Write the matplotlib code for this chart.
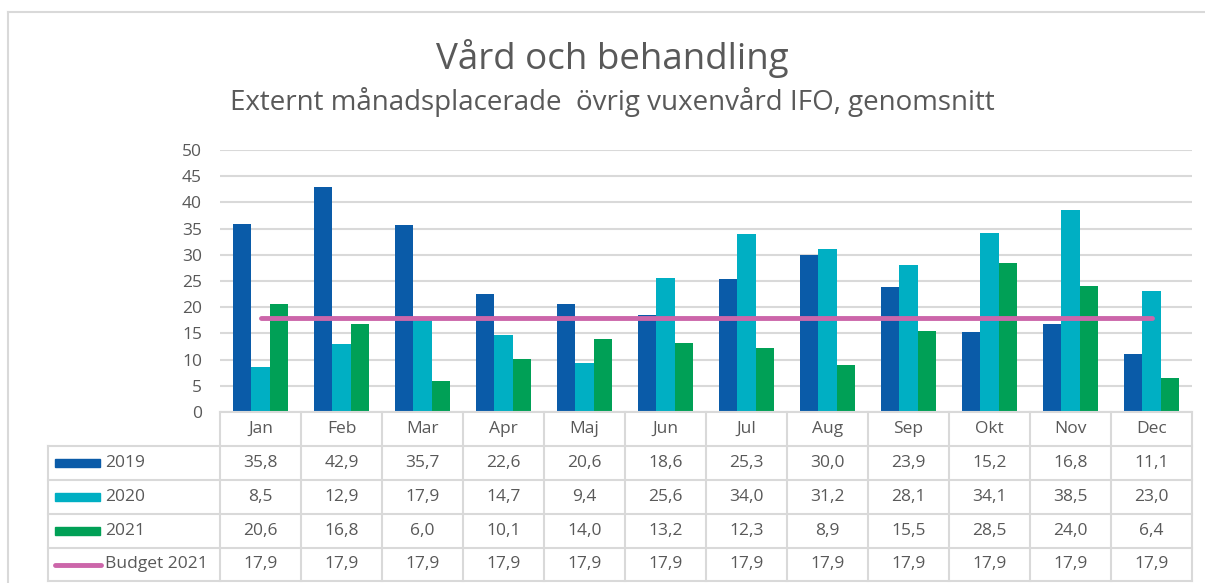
import matplotlib
matplotlib.use("Agg")
import matplotlib.pyplot as plt
import matplotlib.transforms as mtransforms
from matplotlib.patches import Rectangle
from matplotlib.lines import Line2D
import numpy as np

plt.rcParams['font.family'] = ['Open Sans', 'DejaVu Sans']

months = ["Jan", "Feb", "Mar", "Apr", "Maj", "Jun", "Jul", "Aug", "Sep", "Okt", "Nov", "Dec"]
series_names = ["2019", "2020", "2021"]
v2019 = [35.8, 42.9, 35.7, 22.6, 20.6, 18.6, 25.3, 30.0, 23.9, 15.2, 16.8, 11.1]
v2020 = [8.5, 12.9, 17.9, 14.7, 9.4, 25.6, 34.0, 31.2, 28.1, 34.1, 38.5, 23.0]
v2021 = [20.6, 16.8, 6.0, 10.1, 14.0, 13.2, 12.3, 8.9, 15.5, 28.5, 24.0, 6.4]
budget_name = "Budget 2021"
budget = [17.9] * 12
yticks = [0, 5, 10, 15, 20, 25, 30, 35, 40, 45, 50]

title = "Vård och behandling"
subtitle = "Externt månadsplacerade  övrig vuxenvård IFO, genomsnitt"

colors = ["#0A5BA8", "#00AFC3", "#00A056"]
budget_color = "#CC66AA"
text_color = "#595959"
grid_color = "#D9D9D9"

W, H = 1205, 583
fig = plt.figure(figsize=(W / 100, H / 100), dpi=100)

def fx(px):
    return px / W

def fy(py):
    return 1 - py / H

# outer border (left and top)
fig.add_artist(Line2D([fx(8), fx(8)], [fy(12), fy(583)], color=grid_color, lw=1.5))
fig.add_artist(Line2D([fx(8), fx(1205)], [fy(12), fy(12)], color=grid_color, lw=1.5))

ax = fig.add_axes([fx(220), fy(412), fx(1192) - fx(220), fy(150) - fy(412)])
x = np.arange(len(months))
bw = 0.227
for i, (vals, c) in enumerate(zip([v2019, v2020, v2021], colors)):
    ax.bar(x + (i - 1) * bw, vals, bw, color=c, zorder=2)
ax.plot(x, budget, color=budget_color, lw=3.5, solid_capstyle='round', zorder=3)

ax.set_xlim(-0.5, len(months) - 0.5)
ax.set_ylim(0, 50)
ax.set_yticks(yticks)
ax.set_yticklabels([str(t) for t in yticks], color=text_color, fontsize=12.5)
ax.tick_params(axis='y', length=0, pad=13)
ax.set_xticks([])
for s in ax.spines.values():
    s.set_visible(False)
ax.grid(axis='y', color=grid_color, lw=1.5, zorder=0)
ax.set_axisbelow(True)

# title / subtitle
fig.text(fx(612.5), fy(58), title, ha='center', va='center', fontsize=26.5, color=text_color)
fig.text(fx(612.5), fy(102), subtitle, ha='center', va='center', fontsize=20, color=text_color)

# data table
tr = mtransforms.blended_transform_factory(ax.transData, fig.transFigure)
row_y = [412, 446, 480, 514, 548, 581]
left_px = 48
x_left_data = -0.5 - (220 - left_px) * (len(months) / (1192 - 220))
x_right = len(months) - 0.5
lw_t = 1.5
# horizontal lines
fig.add_artist(Line2D([-0.5, x_right], [fy(row_y[0])] * 2, transform=tr, color=grid_color, lw=lw_t))
for ry in row_y[1:]:
    fig.add_artist(Line2D([x_left_data, x_right], [fy(ry)] * 2, transform=tr, color=grid_color, lw=lw_t))
# vertical lines
for k in range(len(months) + 1):
    xv = k - 0.5
    fig.add_artist(Line2D([xv, xv], [fy(row_y[0]), fy(row_y[-1])], transform=tr, color=grid_color, lw=lw_t))
fig.add_artist(Line2D([x_left_data, x_left_data], [fy(row_y[1]), fy(row_y[-1])], transform=tr, color=grid_color, lw=lw_t))

def mid(r):
    return fy((row_y[r] + row_y[r + 1]) / 2)

for j, m in enumerate(months):
    fig.text(j, mid(0), m, transform=tr, ha='center', va='center', fontsize=12.5, color=text_color)

rows = [(series_names[0], v2019, colors[0], 'bar'),
        (series_names[1], v2020, colors[1], 'bar'),
        (series_names[2], v2021, colors[2], 'bar'),
        (budget_name, budget, budget_color, 'line')]
for r, (name, vals, c, kind) in enumerate(rows):
    yc = mid(r + 1)
    if kind == 'bar':
        fig.add_artist(Rectangle((fx(55), yc - 4 / H), fx(100) - fx(55), 8 / H, color=c))
    else:
        fig.add_artist(Line2D([fx(55), fx(101)], [yc, yc], color=c, lw=3.5, solid_capstyle='round'))
    fig.text(fx(105), yc, name, ha='left', va='center', fontsize=12.5, color=text_color)
    for j, v in enumerate(vals):
        fig.text(j, yc, f"{v:.1f}".replace('.', ','), transform=tr, ha='center', va='center',
                 fontsize=12.5, color=text_color)

fig.savefig("out.png", dpi=100)
